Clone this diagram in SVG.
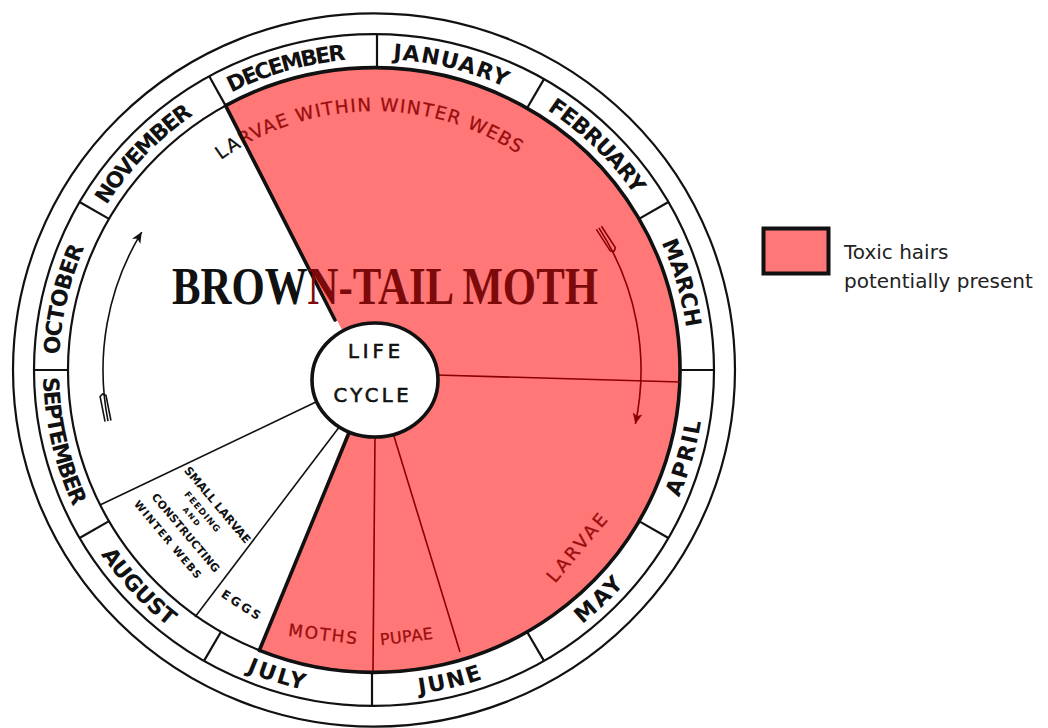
<svg xmlns="http://www.w3.org/2000/svg" width="1048" height="728" viewBox="0 0 1048 728">
<style>
.ring{fill:none;stroke:#111;stroke-width:2.2}
.sep{stroke:#111;stroke-width:2.2}
.month{font-family:"DejaVu Sans","Liberation Sans",sans-serif;font-weight:bold;font-size:22px;fill:#111}
.pink{fill:#FF7777}
.dl{stroke:#8b0000;stroke-width:1.6;fill:none}
.bl{stroke:#111;stroke-width:1.6;fill:none}
.thick{stroke:#111;stroke-width:3.6;fill:none;stroke-linecap:round}
.lbl{font-family:"DejaVu Sans","Liberation Sans",sans-serif;fill:#9a0e0e;stroke:#9a0e0e;stroke-width:0.3}
.blk{font-family:"DejaVu Sans","Liberation Sans",sans-serif;font-weight:bold;fill:#111}
.hand{font-family:"DejaVu Sans","Liberation Sans",sans-serif;fill:#111;stroke:#111;stroke-width:0.6}
.leg{font-family:"DejaVu Sans",Verdana,sans-serif;font-size:20px;fill:#222}
</style>
<defs>
<marker id="ahB" markerWidth="12" markerHeight="10" refX="11" refY="5" orient="auto" markerUnits="userSpaceOnUse"><path d="M0,0 L11,5 L0,10 L3,5 Z" fill="#111"/></marker>
<marker id="ahR" markerWidth="12" markerHeight="10" refX="11" refY="5" orient="auto" markerUnits="userSpaceOnUse"><path d="M0,0 L11,5 L0,10 L3,5 Z" fill="#8b0000"/></marker>
<path id="pOct" d="M -280.7 143.0 A 315 315 0 0 1 -189.6 -251.6"/>
<path id="pNov" d="M -314.4 -19.2 A 315 315 0 0 1 -35.7 -313.0"/>
<path id="pDec" d="M -261.1 -176.1 A 315 315 0 0 1 128.1 -287.8"/>
<path id="pJan" d="M -138.1 -283.1 A 315 315 0 0 1 254.8 -185.2"/>
<path id="pFeb" d="M 24.7 -314.0 A 315 315 0 0 1 313.6 -30.2"/>
<path id="pMar" d="M 176.1 -261.1 A 315 315 0 0 1 287.8 128.1"/>
<path id="pApr" d="M 185.1 274.4 A 331 331 0 0 0 302.4 -134.6"/>
<path id="pMay" d="M 23.1 330.2 A 331 331 0 0 0 329.2 34.6"/>
<path id="pJun" d="M -147.7 296.2 A 331 331 0 0 0 266.1 196.9"/>
<path id="pJul" d="M -279.2 177.8 A 331 331 0 0 0 126.7 305.8"/>
<path id="pAug" d="M -330.5 17.3 A 331 331 0 0 0 -40.3 328.5"/>
<path id="pSep" d="M -294.9 -150.3 A 331 331 0 0 0 -199.2 264.3"/>
<path id="pWeb" d="M -172.7 -197.0 A 262 262 0 0 1 164.0 -204.3"/>
</defs>

<g id="wheel" transform="translate(374 370) scale(1 0.988)">
  <path id="toxic-sector" class="pink" d="M -148.4 -267.6 A 306 306 0 1 1 -114.6 283.7 L -6 10 Z"/>
  <circle class="ring" r="361" stroke-width="2.4"/>
  <circle class="ring" r="340"/>
  <circle class="ring" r="306" stroke-width="2"/>
  <path class="thick" d="M -148.4 -267.6 A 306 306 0 1 1 -114.6 283.7"/>
  <g id="month-separators" class="sep">
    <line x1="306" y1="0" x2="340" y2="0"/>
    <line x1="265" y1="153" x2="294.4" y2="170"/>
    <line x1="153" y1="265" x2="170" y2="294.4"/>
    <line x1="-2" y1="306" x2="-2" y2="340"/>
    <line x1="-153" y1="265" x2="-170" y2="294.4"/>
    <line x1="-265" y1="153" x2="-294.4" y2="170"/>
    <line x1="-306" y1="0" x2="-340" y2="0"/>
    <line x1="-265" y1="-153" x2="-294.4" y2="-170"/>
    <line x1="-148.4" y1="-267.6" x2="-164.8" y2="-297.4"/>
    <line x1="3" y1="-306" x2="3" y2="-340"/>
    <line x1="153" y1="-265" x2="170" y2="-294.4"/>
    <line x1="265" y1="-153" x2="294.4" y2="-170"/>
  </g>
  <g id="month-labels" class="month" text-anchor="middle">
    <text><textPath href="#pOct" startOffset="50%" textLength="112">OCTOBER</textPath></text>
    <text><textPath href="#pNov" startOffset="50%" textLength="127">NOVEMBER</textPath></text>
    <text><textPath href="#pDec" startOffset="50%" textLength="120">DECEMBER</textPath></text>
    <text><textPath href="#pJan" startOffset="50%" textLength="116">JANUARY</textPath></text>
    <text><textPath href="#pFeb" startOffset="50%" textLength="123">FEBRUARY</textPath></text>
    <text><textPath href="#pMar" startOffset="50%" textLength="90">MARCH</textPath></text>
    <text><textPath href="#pApr" startOffset="50%" textLength="80">APRIL</textPath></text>
    <text><textPath href="#pMay" startOffset="50%" textLength="58">MAY</textPath></text>
    <text><textPath href="#pJun" startOffset="50%" textLength="65">JUNE</textPath></text>
    <text><textPath href="#pJul" startOffset="50%" textLength="60">JULY</textPath></text>
    <text><textPath href="#pAug" startOffset="50%" textLength="100">AUGUST</textPath></text>
    <text><textPath href="#pSep" startOffset="50%" textLength="135">SEPTEMBER</textPath></text>
  </g>
  <text id="winter-webs-label" class="lbl" font-size="18.5" text-anchor="middle"><textPath href="#pWeb" startOffset="50%" textLength="316"><tspan fill="#111" stroke="#111">LA</tspan>RVAE WITHIN WINTER WEBS</textPath></text>
  <g id="arrows">
    <path class="bl" stroke-width="1.8" d="M -266 51.7 A 271 271 0 0 1 -232.3 -139.6" marker-end="url(#ahB)"/>
    <path class="bl" stroke-width="1.3" d="M -263.06 51.13 L -268.02 25.61 L -271.34 24.22 L -273.9 26.75 L -268.94 52.27"/>
    <path class="dl" stroke-width="1.8" d="M 224.9 -143.9 A 267 267 0 0 1 261.4 54.6" marker-end="url(#ahR)"/>
    <path class="dl" stroke-width="1.3" d="M 227.43 -145.52 L 241.43 -123.62 L 240 -120.3 L 236.37 -120.38 L 222.37 -142.28"/>
  </g>
</g>

<g id="connectors">
  <line class="bl" x1="318" y1="401" x2="100" y2="505"/>
  <line class="bl" x1="340" y1="426" x2="195" y2="617"/>
  <line class="dl" x1="436" y1="375" x2="680" y2="382"/>
  <line class="dl" x1="375" y1="435" x2="373" y2="671"/>
  <line class="dl" x1="393" y1="433" x2="460" y2="652"/>
  <line class="thick" x1="225.6" y1="105.6" x2="335" y2="320"/>
  <line class="thick" x1="259.4" y1="650.3" x2="351" y2="428"/>
</g>

<g id="title">
  <text x="172" y="304" font-family="'Liberation Serif','Times New Roman',serif" font-weight="bold" font-size="52" textLength="426" lengthAdjust="spacingAndGlyphs"><tspan fill="#111">BROW</tspan><tspan fill="#7d0a0a">N-TAIL MOTH</tspan></text>
</g>

<g id="life-cycle">
  <ellipse cx="375" cy="380" rx="63" ry="57" fill="#fff" stroke="#111" stroke-width="3.6"/>
  <text class="hand" x="374" y="358" font-size="19.5" text-anchor="middle" textLength="52">LIFE</text>
  <text class="hand" x="371" y="402" font-size="19.5" text-anchor="middle" textLength="75">CYCLE</text>
</g>

<g id="stage-labels">
  <text class="lbl" font-size="17" text-anchor="middle" transform="translate(322 640) rotate(7)" textLength="69">MOTHS</text>
  <text class="lbl" font-size="16" text-anchor="middle" transform="translate(407 642) rotate(-7)" textLength="53">PUPAE</text>
  <text class="lbl" font-size="18" text-anchor="middle" transform="translate(577 548) rotate(-50) translate(0 6)" textLength="83">LARVAE</text>
  <text class="blk" font-size="12" text-anchor="middle" transform="translate(241 605) rotate(33) translate(0 4)" textLength="44">EGGS</text>
  <g transform="translate(217.5 505) rotate(50)" class="blk" text-anchor="middle">
    <text x="0" y="4" font-size="11.5" textLength="96">SMALL LARVAE</text>
    <text x="-4.7" y="19" font-size="9" textLength="50">FEEDING</text>
    <text x="-8" y="30" font-size="7.5" textLength="22">AND</text>
    <text x="0.9" y="46" font-size="11" textLength="99">CONSTRUCTING</text>
    <text x="-5.6" y="64" font-size="10.5" textLength="98">WINTER WEBS</text>
  </g>
</g>

<g id="legend">
  <rect x="763.5" y="228.5" width="65" height="45" fill="#FF7777" stroke="#111" stroke-width="4"/>
  <text class="leg" x="844" y="259">Toxic hairs</text>
  <text class="leg" x="844" y="288">potentially present</text>
</g>
</svg>
